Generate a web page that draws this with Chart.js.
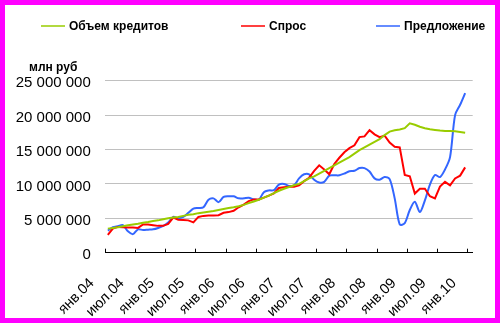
<!DOCTYPE html>
<html>
<head>
<meta charset="utf-8">
<script src="https://cdn.jsdelivr.net/npm/chart.js@4.4.1/dist/chart.umd.min.js"></script>
<style>
  html, body { margin: 0; padding: 0; background: #ff00ff; }
  #wrap { position: absolute; left: 5px; top: 5px; width: 490px; height: 313px; background: #ffffff; }
  canvas { display: block; }
</style>
</head>
<body>
<div id="wrap"><canvas id="c" width="490" height="313"></canvas></div>
<script>
// ---- data ----
const categories = [
  'янв.04','фев.04','мар.04','апр.04','май.04','июн.04','июл.04','авг.04','сен.04','окт.04','ноя.04','дек.04',
  'янв.05','фев.05','мар.05','апр.05','май.05','июн.05','июл.05','авг.05','сен.05','окт.05','ноя.05','дек.05',
  'янв.06','фев.06','мар.06','апр.06','май.06','июн.06','июл.06','авг.06','сен.06','окт.06','ноя.06','дек.06',
  'янв.07','фев.07','мар.07','апр.07','май.07','июн.07','июл.07','авг.07','сен.07','окт.07','ноя.07','дек.07',
  'янв.08','фев.08','мар.08','апр.08','май.08','июн.08','июл.08','авг.08','сен.08','окт.08','ноя.08','дек.08',
  'янв.09','фев.09','мар.09','апр.09','май.09','июн.09','июл.09','авг.09','сен.09','окт.09','ноя.09','дек.09',
  'янв.10'
];
const seriesNames = ['Объем кредитов', 'Спрос', 'Предложение'];
const yAxisTitle = 'млн руб';

const creditVolume = [
  3500000,3600000,3700000,3850000,4000000,4100000,4200000,4350000,4450000,4600000,4700000,4850000,
  5000000,5100000,5200000,5350000,5500000,5600000,5750000,5850000,5950000,6050000,6200000,6350000,
  6500000,6600000,6750000,6950000,7200000,7450000,7700000,8000000,8300000,8650000,9000000,9300000,
  9550000,9800000,10000000,10400000,10800000,11100000,11500000,11900000,12300000,12700000,13100000,13500000,
  13900000,14400000,14900000,15300000,15700000,16100000,16500000,17100000,17600000,17800000,17900000,18100000,
  18800000,18600000,18300000,18100000,17950000,17850000,17750000,17700000,17700000,17650000,17550000,17450000
];
const demand = [
  2600000,3500000,3750000,3700000,3650000,3650000,3600000,4100000,4100000,4000000,3900000,3900000,
  4200000,5100000,4800000,4750000,4700000,4400000,5200000,5350000,5400000,5400000,5450000,5800000,
  5900000,6100000,6600000,7000000,7500000,7750000,7750000,8000000,8300000,8600000,9400000,9500000,
  9600000,9600000,9800000,10400000,10900000,11900000,12700000,12100000,11400000,12900000,13800000,14600000,
  15200000,15600000,16800000,16900000,17800000,17200000,16800000,17000000,16000000,15400000,15300000,11300000,
  11100000,8600000,9300000,9300000,8200000,7900000,9600000,10300000,9800000,10800000,11200000,12400000
];
const supply = [
  3200000,3700000,3850000,4000000,3100000,2700000,3400000,3300000,3350000,3400000,3600000,3900000,
  4400000,5200000,5000000,5200000,5800000,6400000,6500000,6600000,7700000,7900000,7350000,8100000,
  8200000,8200000,7900000,7900000,8000000,7750000,7700000,8800000,9050000,9100000,9900000,10000000,
  9700000,9800000,10800000,11400000,11400000,10600000,10200000,10300000,11200000,11250000,11250000,11500000,
  11850000,11900000,12300000,12300000,11800000,10800000,10600000,11000000,10700000,7900000,4100000,4300000,
  6200000,7400000,5900000,7600000,9900000,11300000,11000000,12100000,13900000,20000000,21500000,23200000
];
const yTicks = [0, 5000000, 10000000, 15000000, 20000000, 25000000];
const labelEvery = 6;

// ---- chart ----
const FONT = 'Arial, "Liberation Sans", sans-serif';
const colors = ['#99cc00', '#ff0000', '#3366ff'];
const seriesValues = [creditVolume, demand, supply];

const toPoints = arr => arr.map((v, i) => ({ x: i, y: v }));
const fmt = v => String(Math.round(v)).replace(/\B(?=(\d{3})+(?!\d))/g, ' ');

const excelLegend = {
  id: 'excelLegend',
  afterDraw(chart) {
    const ctx = chart.ctx;
    ctx.save();
    ctx.font = 'bold 12px ' + FONT;
    ctx.textAlign = 'left';
    ctx.textBaseline = 'alphabetic';
    const xs = [36, 236, 371];
    chart.data.datasets.forEach((ds, i) => {
      const x = xs[i];
      ctx.strokeStyle = ds.borderColor;
      ctx.lineWidth = 1.5;
      ctx.beginPath();
      ctx.moveTo(x, 21);
      ctx.lineTo(x + 24, 21);
      ctx.stroke();
      ctx.fillStyle = '#000';
      ctx.fillText(ds.label, x + 28, 25);
    });
    ctx.fillStyle = '#000';
    ctx.fillText(yAxisTitle, 24, 65.5);
    ctx.restore();
  }
};

new Chart(document.getElementById('c'), {
  type: 'line',
  data: {
    datasets: seriesValues.map((vals, k) => ({
      label: seriesNames[k],
      data: toPoints(vals),
      borderColor: colors[k],
      backgroundColor: colors[k],
      borderWidth: 2,
      pointRadius: 0,
      tension: k === 2 ? 0.3 : 0,
      fill: false
    }))
  },
  options: {
    responsive: false,
    animation: false,
    devicePixelRatio: 1,
    layout: { padding: { top: 75.7, left: 0, right: 22.3, bottom: 0 } },
    plugins: { legend: { display: false }, tooltip: { enabled: false } },
    scales: {
      x: {
        type: 'linear',
        min: -0.5,
        max: categories.length - 0.5,
        afterBuildTicks: s => {
          const t = [];
          for (let k = 0; k < categories.length; k += labelEvery) t.push({ value: k - 0.5 });
          s.ticks = t;
        },
        afterFit: s => { s.height = 65.3; s.paddingLeft = 0; s.paddingRight = 0; },
        border: { display: true, color: '#000000', width: 1 },
        grid: { display: true, drawOnChartArea: false, drawTicks: true, tickLength: -4, color: '#000000' },
        ticks: {
          autoSkip: false,
          minRotation: 45,
          maxRotation: 45,
          padding: 26,
          labelOffset: -13.5,
          color: '#000000',
          font: { family: FONT, size: 14.5 },
          callback: v => categories[Math.round(v + 0.5)]
        }
      },
      y: {
        min: 0,
        max: 25000000,
        afterBuildTicks: s => { s.ticks = yTicks.map(v => ({ value: v })); },
        afterFit: s => { s.width = 100.3; },
        border: { display: false },
        grid: { color: '#c0c0c0', drawTicks: false, lineWidth: 1 },
        ticks: {
          padding: 14.5,
          labelOffset: 2.5,
          color: '#000000',
          font: { family: FONT, size: 15 },
          callback: v => fmt(v)
        }
      }
    }
  },
  plugins: [excelLegend]
});
</script>
</body>
</html>
